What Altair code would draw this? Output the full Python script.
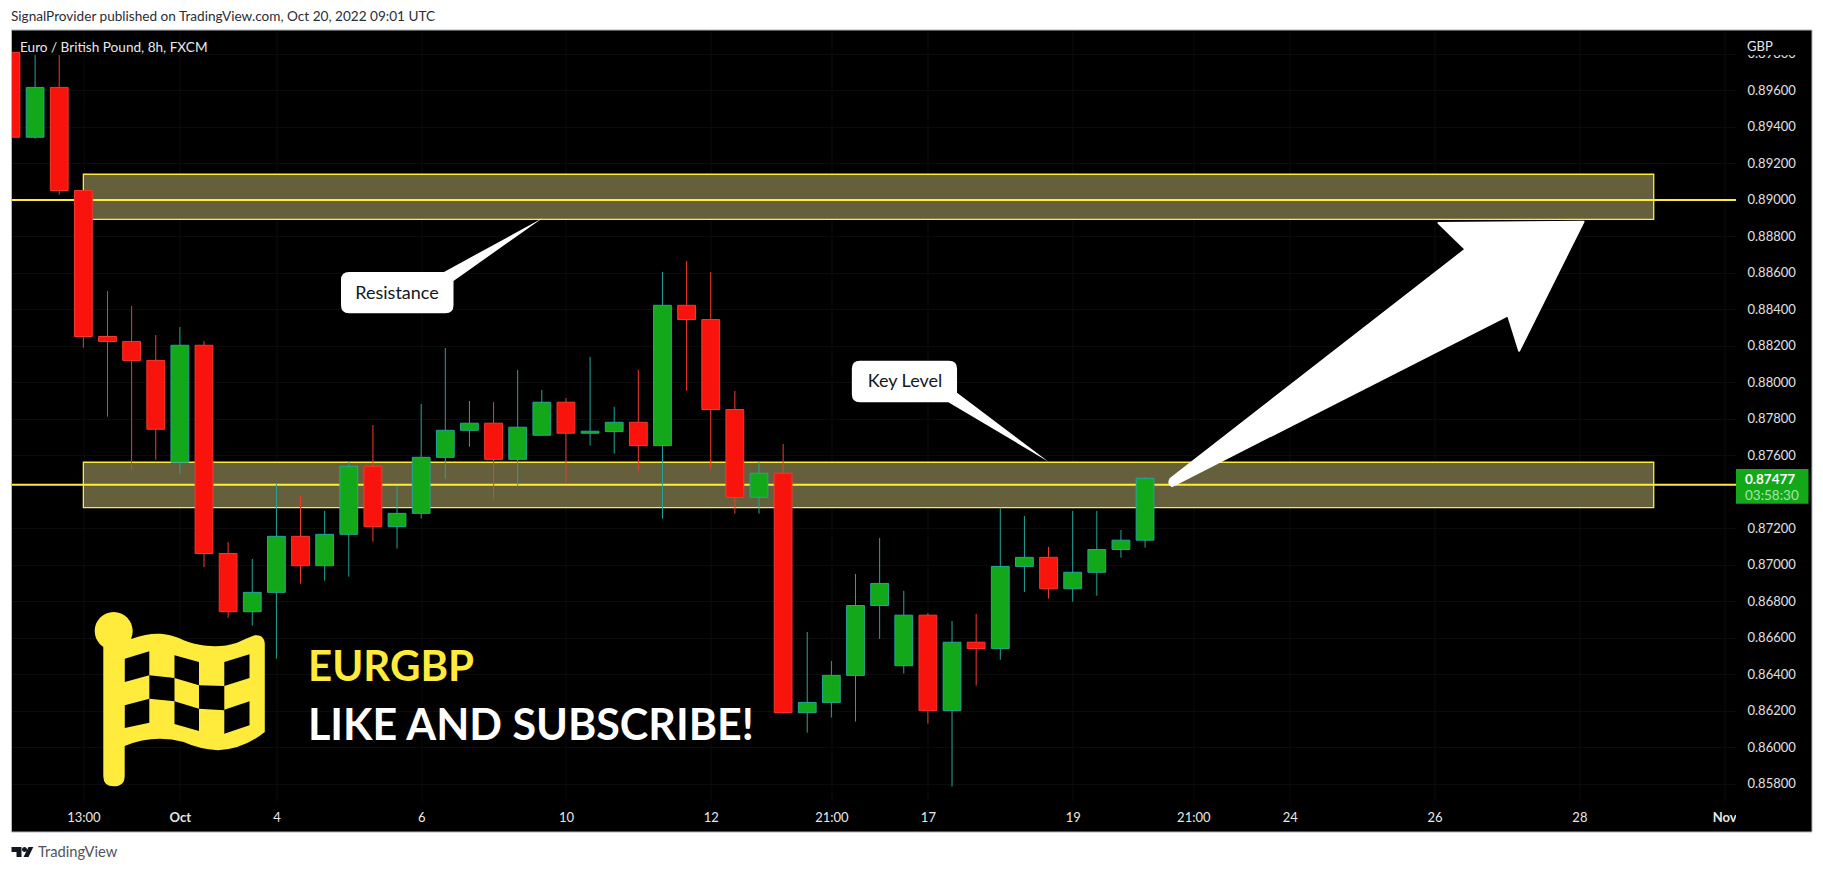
import altair as alt
import pandas as pd

# ---- candle values ----
index = list(range(-1, 47))
opens = [.89809,.89344,.89617,.89052,.88252,.88225,.88121,.87563,.88204,.87063,.86744,.86850,.87157,.86996,.87168,.87541,
         .87210,.87283,.87590,.87738,.87777,.87579,.87711,.87892,.87722,.87731,.87782,.87654,.88423,.88345,.87852,.87371,
         .87503,.86191,.86247,.86395,.86778,.86448,.86725,.86202,.86577,.86542,.86992,.87042,.86870,.86960,.87085,.87136]
highs = [.89809,.89794,.89794,.89052,.88501,.88419,.88260,.88304,.88227,.87126,.87033,.87446,.87378,.87296,.87565,.87767,
         .87433,.87882,.88189,.87899,.87893,.88069,.87959,.87915,.88140,.87866,.88069,.88606,.88666,.88606,.87954,.87565,
         .87663,.86633,.86474,.86951,.87148,.86858,.86737,.86693,.86732,.87315,.87269,.87099,.87296,.87296,.87192,.87482]
lows = [.89344,.89336,.89029,.88191,.87813,.87522,.87577,.87499,.86989,.86711,.86668,.86487,.86898,.86914,.86936,.87128,
        .87090,.87254,.87473,.87648,.87358,.87433,.87711,.87446,.87654,.87610,.87517,.87254,.87954,.87528,.87281,.87281,
        .86185,.86081,.86164,.86142,.86595,.86405,.86131,.85786,.86339,.86481,.86852,.86816,.86799,.86832,.87040,.87095]
closes = [.89344,.89617,.89052,.88252,.88225,.88121,.87744,.88204,.87063,.86744,.86850,.87157,.86996,.87168,.87541,.87210,
          .87283,.87590,.87738,.87777,.87579,.87755,.87892,.87722,.87733,.87782,.87654,.88423,.88345,.87852,.87371,.87503,
          .86191,.86247,.86395,.86778,.86899,.86725,.86202,.86577,.86542,.86992,.87042,.86870,.86960,.87085,.87136,.87475]

x_ticks = [2, 6, 10, 16, 22, 28, 33, 37, 43, 48, 52, 58, 64, 70]
x_labels = ["13:00", "Oct", "4", "6", "10", "12", "21:00", "17", "19", "21:00", "24", "26", "28", "Nov"]
y_ticks = [.896, .894, .892, .890, .888, .886, .884, .882, .880, .878, .876, .872, .870, .868, .866, .864, .862, .860, .858, .898]
levels = [0.89000, 0.87440]
zones = {"i0": [2, 2], "i1": [67.08, 67.08], "top": [.89141, .87563], "bottom": [.88894, .87314]}

# ---- annotation outlines (svg paths in pixels around an anchor; symbol size 4 = scale 1) ----
ARROW = "M0,0 L-145,1.3 L-118,27.6 L-413,257 Q-416,262 -411.4,264.3 L-75.5,93.6 L-64.4,129 Z"
RESIST = ("M0,0 L-98.3,53.7 L-193.3,53.7 Q-201.3,53.7 -201.3,61.7 L-201.3,87 Q-201.3,95 -193.3,95 "
          "L-96.8,95 Q-88.8,95 -88.8,87 L-88.8,62.7 Z")
KEYLVL = ("M0,0 L-100.2,-59.4 L-188.7,-59.4 Q-196.7,-59.4 -196.7,-67.4 L-196.7,-93 Q-196.7,-101 -188.7,-101 "
          "L-99.5,-101 Q-91.5,-101 -91.5,-93 L-91.5,-69 Z")
FLAG = ("M-19,0 A19,19 0 1,1 19,0 A19,19 0 1,1 -19,0 Z "
        "M-10.4,10 L18.3,7.7 C40,0 55,2 70,9.3 C85,15 105,18 123.3,11.7 C130,9 136,6 141,4.3 C148,3 151,8 151.1,12.7 "
        "L151.1,101 Q130,118 104.3,119.3 Q85,118 70,111 Q40,103 11,115 L11,145 Q11,155.3 0,155.3 "
        "Q-10.4,155.3 -10.4,145 Z")
CHECK = ("M11.1,27.7 L35.6,20.3 L35.6,44.3 L11.1,51 Z M60.8,24.3 L85.3,31 L85.3,54.3 L60.8,47 Z "
         "M110.6,31 L135.8,23.3 L135.8,47 L110.6,55 Z M35.6,44.3 L60.8,47 L60.8,70.3 L35.6,67.7 Z "
         "M85.3,54.3 L110.6,55 L110.6,79.3 L85.3,77.7 Z M11.1,74.3 L35.6,67.7 L35.6,91.7 L11.1,97 Z "
         "M60.8,70.3 L85.3,77.7 L85.3,100 L60.8,93 Z M110.6,78.7 L135.8,70.3 L135.8,94.3 L110.6,102.7 Z")
TVLOGO = ("M0,0 L10,0 L10,10 L5,10 L5,5 L0,5 Z M10.5,2.5 A2.5,2.5 0 1,1 15.5,2.5 A2.5,2.5 0 1,1 10.5,2.5 Z "
          "M21.8,0 L17,10 L12,10 L17,0 Z")

FONT = "Lato"
YEL = "#ffeb3b"
W, H = 1724.5, 771

df = pd.DataFrame({"i": index, "o": opens, "h": highs, "l": lows, "c": closes})
up = df.c >= df.o
df["fill"] = ["#12a81a" if u else "#f8130c" for u in up]
df["edge"] = ["#22a699" if u else "#f23b2f" for u in up]
df["top"] = df[["o", "c"]].max(axis=1)
df["bot"] = df[["o", "c"]].min(axis=1)

xs = alt.Scale(domain=[-0.978, 70.49], zero=False, nice=False, padding=0)
ys = alt.Scale(domain=[0.857068, 0.899315], zero=False, nice=False, padding=0)
X = alt.X("i:Q", scale=xs, title=None)
Y = alt.Y("p:Q", scale=ys, title=None)
dummy = pd.DataFrame({"d": [0]})

x_axis = alt.Axis(values=x_ticks, title=None, domain=False, ticks=False, grid=True, gridColor="#0c0c0c",
                  labelExpr="%s[indexof(%s, datum.value)]" % (x_labels, x_ticks),
                  labelColor="#e8e8e8", labelFont=FONT, labelFontSize=13, labelPadding=10, labelAngle=0,
                  labelFlush=False, labelOverlap=False,
                  labelFontWeight=alt.expr("datum.value == 6 || datum.value == 70 ? 'bold' : 'normal'"))
y_axis = alt.Axis(values=y_ticks, title=None, orient="right", domain=False, ticks=False, grid=True, gridColor="#0c0c0c",
                  format=".5f", labelColor="#e0e0e0", labelFont=FONT, labelFontSize=13, labelPadding=11,
                  labelFlush=False, labelOverlap=False)


def box(x0, x1, y0, y1, fill):
    return alt.Chart(dummy).mark_rect(fill=fill).encode(
        x=alt.value(x0 - 11.5), x2=alt.value(x1 - 11.5), y=alt.value(y0 - 30), y2=alt.value(y1 - 30))


def label(txt, x, y, size, color, align="left", weight="normal", font=FONT):
    return alt.Chart(dummy).mark_text(text=txt, align=align, baseline="middle", fontSize=size, color=color,
                                      fontWeight=weight, font=font).encode(
        x=alt.value(x - 11.5), y=alt.value(y - 30))


def shape(path, i, p, fill, **kw):
    d = pd.DataFrame({"i": [i], "p": [p]})
    return alt.Chart(d).mark_point(shape=path, size=4, filled=True, fill=fill, opacity=1, **kw).encode(x=X, y=Y)


def data_text(txt, i, p, size, color, align="center", weight="normal"):
    d = pd.DataFrame({"i": [i], "p": [p]})
    return alt.Chart(d).mark_text(text=txt, align=align, baseline="middle", fontSize=size, color=color,
                                  fontWeight=weight, font=FONT).encode(x=X, y=Y)


axes_base = alt.Chart(pd.DataFrame({"i": x_ticks[:1], "p": y_ticks[:1]})).mark_point(opacity=0).encode(
    x=alt.X("i:Q", scale=xs, axis=x_axis), y=alt.Y("p:Q", scale=ys, axis=y_axis))

zone_marks = alt.Chart(pd.DataFrame(zones)).mark_rect(fill="#665f3c", stroke=YEL, strokeWidth=1.3).encode(
    x=alt.X("i0:Q", scale=xs, title=None), x2="i1:Q",
    y=alt.Y("top:Q", scale=ys, title=None), y2="bottom:Q")
level_rules = alt.Chart(pd.DataFrame({"p": levels})).mark_rule(color=YEL, strokeWidth=2, clip=True).encode(y=Y)

wicks = alt.Chart(df).mark_rule(strokeWidth=1, clip=True).encode(
    x=X, y=alt.Y("h:Q", scale=ys, title=None), y2="l:Q", color=alt.Color("edge:N", scale=None))
bodies = alt.Chart(df).mark_bar(size=17.8, strokeWidth=1, clip=True).encode(
    x=X, y=alt.Y("top:Q", scale=ys, title=None), y2="bot:Q",
    fill=alt.Fill("fill:N", scale=None), stroke=alt.Stroke("edge:N", scale=None))

layers = [
    axes_base, zone_marks, level_rules, wicks, bodies,
    # callouts, arrow, flag
    shape(RESIST, 21.02, 0.88900, "white"),
    data_text("Resistance", 15.0, 0.88485, 18, "#131722"),
    shape(KEYLVL, 42.0, 0.87566, "white"),
    data_text("Key Level", 36.05, 0.88000, 18, "#131722"),
    shape(ARROW, 64.17, 0.88881, "white", stroke="white", strokeWidth=2, strokeJoin="round"),
    shape(FLAG, 3.257, 0.86638, YEL),
    shape(CHECK, 3.257, 0.86638, "black"),
    label("EURGBP", 308, 668, 42, YEL, weight="bold"),
    label("LIKE AND SUBSCRIBE!", 308, 727, 43, "white", weight="bold"),
    # masks over the axis text, then the price strip
    box(1736, 1812, 30, 55, "black"),
    box(1736, 1812, 801, 832, "black"),
    label("GBP", 1747, 47, 13, "#e8e8e8"),
    label("Euro / British Pound, 8h, FXCM", 20, 48, 13.6, "#e8e8e8"),
    box(1736, 1808.5, 469, 503.7, "#12a81a"),
    label("0.87477", 1745, 479.5, 13.5, "white", weight="bold"),
    label("03:58:30", 1745, 495.5, 13.5, "#a6e6a8"),
    # white page around the pane
    box(8, 1813, 8, 30, "white"),
    box(8, 1813, 832, 861, "white"),
    box(8, 11.5, 8, 861, "white"),
    box(1812, 1813, 8, 861, "white"),
    alt.Chart(dummy).mark_rect(fill=None, stroke="#b2b5be", strokeWidth=1).encode(
        x=alt.value(0), x2=alt.value(1800.5), y=alt.value(0), y2=alt.value(802)),
    label("SignalProvider published on TradingView.com, Oct 20, 2022 09:01 UTC", 11, 17, 13.6, "#2a2e39"),
    label("TradingView", 38, 853, 14.7, "#50535e"),
    alt.Chart(dummy).mark_point(shape=TVLOGO, size=4, filled=True, fill="#131722", opacity=1).encode(
        x=alt.value(0), y=alt.value(817)),
]

chart = alt.layer(*layers).properties(
    width=W, height=H, background="black",
    padding={"left": 3.5, "top": 22, "right": 77, "bottom": 60},
    autosize=alt.AutoSizeParams(type="none"),
).configure_view(strokeWidth=0)

chart.save("out.html", embed_options={"renderer": "svg", "actions": False})
